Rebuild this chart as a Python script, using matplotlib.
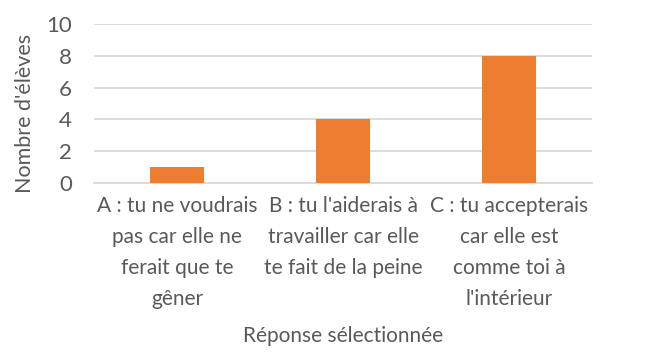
import matplotlib.pyplot as plt

reponses = ["A : tu ne voudrais\npas car elle ne\nferait que te\ngêner",
            "B : tu l'aiderais à\ntravailler car elle\nte fait de la peine",
            "C : tu accepterais\ncar elle est\ncomme toi à\nl'intérieur"]
nb_eleves = [1, 4, 8]
graduations = [0, 2, 4, 6, 8, 10]

plt.rcParams['font.family'] = ['Lato', 'DejaVu Sans']
gris = '#595959'

fig = plt.figure(figsize=(6.51, 3.54), dpi=100)
ax = fig.add_axes([0.1444, 0.483, 0.765, 0.449])
pos = range(len(reponses))
ax.bar(pos, nb_eleves, width=0.32, color='#ED7D31', zorder=3)
ax.set_xlim(-0.5, 2.5)
ax.set_ylim(0, 10)
ax.set_yticks(graduations)
ax.set_xticks(list(pos))
ax.set_xticklabels(reponses, fontsize=15, color=gris, linespacing=1.7)
ax.tick_params(axis='y', labelsize=16, labelcolor=gris, length=0, pad=16)
ax.tick_params(axis='x', length=0, pad=9)
ax.grid(axis='y', color='#D9D9D9', linewidth=1.3, zorder=0)
for s in ['top', 'right', 'left']:
    ax.spines[s].set_visible(False)
ax.spines['bottom'].set_color('#D9D9D9')
ax.spines['bottom'].set_linewidth(1.3)
ax.set_ylabel("Nombre d'élèves", fontsize=15.5, color=gris)
ax.yaxis.set_label_coords(-0.118, 0.44)
ax.set_xlabel("Réponse sélectionnée", fontsize=15, color=gris, labelpad=12)

fig.savefig("out.png", dpi=100)
